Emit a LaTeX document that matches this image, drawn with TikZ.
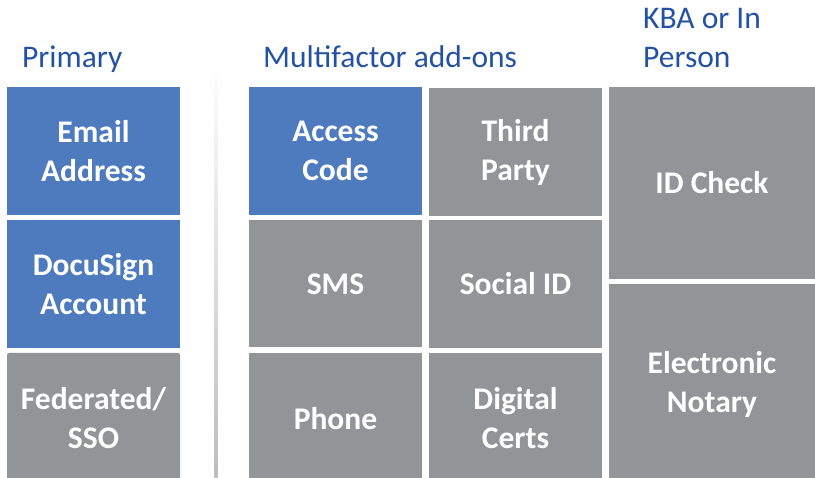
\documentclass[tikz,border=0pt]{standalone}
\usepackage{fontspec}
\setmainfont{Carlito}
\usetikzlibrary{positioning}

\definecolor{boxblue}{HTML}{4E7BBE}
\definecolor{boxgray}{HTML}{939498}
\definecolor{headblue}{HTML}{2352A5}

\begin{document}
\begin{tikzpicture}[x=1pt,y=-1pt,
    tile/.style={text=white,inner sep=0pt,outer sep=0pt,align=center,
      font=\fontsize{31.5}{39}\selectfont\bfseries},
    bluetile/.style={tile,fill=boxblue},
    graytile/.style={tile,fill=boxgray},
    heading/.style={text=headblue,inner sep=0pt,anchor=base west,align=left,
      font=\fontsize{31.5}{39}\selectfont}]
    \useasboundingbox (0,0) rectangle (815,478);
    % column headings
    \node[heading] (primary) at (22,68) {Primary};
    \node[heading] (multi) at (263,68) {Multifactor add-ons};
    \node[heading] (kba) at (643,68) {KBA or In\\Person};
    % divider
    \shade[top color=white,middle color=black!38,bottom color=black!26]
      (214.5,62) rectangle (217.5,478);
    % primary column (bottom row runs past the lower edge)
    \node[bluetile,minimum width=173pt,minimum height=128pt] (email) at (93.5,151) {Email\\Address};
    \node[bluetile,minimum width=173pt,minimum height=128pt] (docusign) at (93.5,284) {DocuSign\\Account};
    \node[graytile,minimum width=173pt,minimum height=131pt,rounded corners=2pt] (sso) at (93.5,418.5) {Federated/\\SSO};
    % multifactor add-ons
    \node[bluetile,minimum width=173pt,minimum height=128pt] (access) at (335.5,151) {Access\\Code};
    \node[graytile,minimum width=173pt,minimum height=128pt] (thirdparty) at (515.5,152) {Third\\Party};
    \node[graytile,minimum width=173pt,minimum height=127pt] (sms) at (335.5,284) {SMS};
    \node[graytile,minimum width=173pt,minimum height=128pt] (socialid) at (515.5,284) {Social ID};
    \node[graytile,minimum width=173pt,minimum height=131pt] (phone) at (335.5,418.5) {Phone};
    \node[graytile,minimum width=173pt,minimum height=131pt] (certs) at (515.5,418.5) {Digital\\Certs};
    % KBA or in person
    \node[graytile,minimum width=206pt,minimum height=192pt] (idcheck) at (712,183) {ID Check};
    \node[graytile,minimum width=206pt,minimum height=200pt] (notary) at (712,384) {Electronic\\Notary};
\end{tikzpicture}
\end{document}
